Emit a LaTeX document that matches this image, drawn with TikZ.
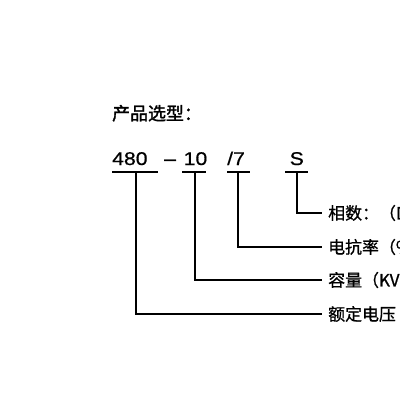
\documentclass[tikz,border=0pt]{standalone}
\usepackage{fontspec}
\newfontfamily\cjk[FakeBold=0.9]{Noto Sans CJK SC}
\newfontfamily\cjkt[FakeBold=1.6]{Noto Sans CJK SC}
\newfontfamily\codefont[FakeStretch=1.15,FakeBold=0.7]{Liberation Sans}
\begin{document}
\begin{tikzpicture}[x=1bp,y=-1bp,
  codetxt/.style={inner sep=0, anchor=base west, font=\codefont\fontsize{18.5}{20}\selectfont},
  lab/.style={inner ysep=0, inner xsep=6bp, anchor=west, font=\cjk\fontsize{17}{20}\selectfont},
  conn/.style={draw=black, line width=1.9bp}]
\useasboundingbox (0,0) rectangle (400,400);
\fill[white] (0,0) rectangle (400,400);
\clip (0,0) rectangle (400,400);
\node[anchor=base west, inner sep=0, font=\cjkt\fontsize{18}{20}\selectfont] (title) at (112,120) {产品选型：};
\node[codetxt] (c480) at (112,165) {480};
\node[codetxt] (cdash) at (164,165) {–};
\node[codetxt] (c10) at (183.5,165) {10};
\node[codetxt] (c7) at (227,165) {/7};
\node[codetxt] (cS) at (289.5,165) {S};
\coordinate (u480a) at (112,172); \coordinate (u480b) at (158,172); \coordinate (t480) at (136,172);
\coordinate (u10a) at (182,172); \coordinate (u10b) at (205.5,172); \coordinate (t10) at (195,172);
\coordinate (u7a) at (227,172); \coordinate (u7b) at (250,172); \coordinate (t7) at (238,172);
\coordinate (uSa) at (285,172); \coordinate (uSb) at (308,172); \coordinate (tS) at (297,172);
\node[lab] (lS) at (322,213) {相数：（D};
\node[lab] (l7) at (322,247) {电抗率（\%};
\node[lab] (l10) at (322,280) {容量（KV};
\node[lab] (l480) at (322,314) {额定电压};
\draw[conn] (u480a) -- (u480b);
\draw[conn] (u10a) -- (u10b);
\draw[conn] (u7a) -- (u7b);
\draw[conn] (uSa) -- (uSb);
\draw[conn] (tS) |- (lS.west);
\draw[conn] (t7) |- (l7.west);
\draw[conn] (t10) |- (l10.west);
\draw[conn] (t480) |- (l480.west);
\end{tikzpicture}
\end{document}
